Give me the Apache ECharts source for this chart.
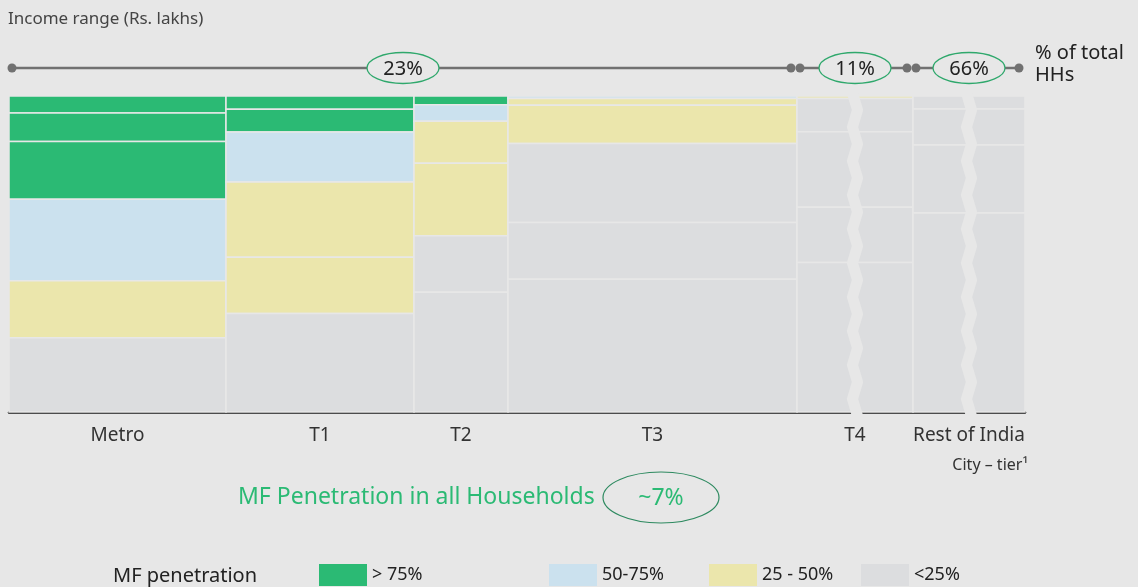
<!DOCTYPE html>
<html>
<head>
<meta charset="utf-8">
<script src="https://cdn.jsdelivr.net/npm/echarts@6/dist/echarts.min.js"></script>
<style>
  html, body { margin: 0; padding: 0; background: #e7e7e7; }
  #chart { width: 1138px; height: 587px; }
</style>
</head>
<body>
<div id="chart"></div>
<script>
// city tiers and the drawn width of each column
var cities = ['Metro', 'T1', 'T2', 'T3', 'T4', 'Rest of India'];
var columnWidths = [217, 188, 94, 289, 116, 112];

// MF penetration classes
var penetrationClasses = ['> 75%', '50-75%', '25 - 50%', '<25%'];

// income-range segments, top to bottom: share of column (%) and penetration class
var metroShares = [5.4, 9.0, 18.3, 25.8, 18.0, 23.5];
var metroClasses = [0, 0, 0, 1, 2, 3];
var t1Shares = [4.2, 7.2, 15.8, 23.8, 17.8, 31.2];
var t1Classes = [0, 0, 1, 2, 2, 3];
var t2Shares = [2.8, 5.2, 13.3, 22.9, 17.9, 37.9];
var t2Classes = [0, 1, 2, 2, 3, 3];
var t3Shares = [0.8, 2.1, 12.1, 25.0, 18.0, 42.0];
var t3Classes = [1, 2, 2, 3, 3, 3];
var t4Shares = [0.8, 10.5, 23.9, 17.5, 47.3];
var t4Classes = [2, 3, 3, 3, 3];
var roiShares = [4.1, 11.4, 21.5, 63.0];
var roiClasses = [3, 3, 3, 3];

// % of total households per group of columns
var hhShareLabels = ['23%', '11%', '66%'];
var hhShareGroups = [[0, 3], [4, 4], [5, 5]];
var brokenColumns = [4, 5];
var overallPenetration = '~7%';

var BG = '#e7e7e7';
var FONT = 'Noto Sans';
var classColors = ['#2bba74', '#cbe1ee', '#ebe6ac', '#dcdddf'];
var legendLefts = [319, 549, 709, 861];

var allShares = [metroShares, t1Shares, t2Shares, t3Shares, t4Shares, roiShares];
var allClasses = [metroClasses, t1Classes, t2Classes, t3Classes, t4Classes, roiClasses];

var xStart = [];
var acc = 0;
columnWidths.forEach(function (w) { xStart.push(acc); acc += w; });
var xTotal = acc;
var mids = columnWidths.map(function (w, i) { return xStart[i] + w / 2; });

var bandData = penetrationClasses.map(function () { return []; });
allShares.forEach(function (shares, col) {
    var cum = 0;
    shares.forEach(function (s, k) {
        var top = 100 - cum;
        cum += s;
        var bottom = Math.max(0, 100 - cum);
        bandData[allClasses[col][k]].push([xStart[col], xStart[col] + columnWidths[col], top, bottom]);
    });
});

function renderBand(params, api) {
    var p0 = api.coord([api.value(0), api.value(2)]);
    var p1 = api.coord([api.value(1), api.value(3)]);
    return {
        type: 'rect',
        shape: { x: p0[0], y: p0[1], width: p1[0] - p0[0], height: p1[1] - p0[1] },
        style: { fill: api.visual('color'), stroke: BG, lineWidth: 1.5 }
    };
}

// zigzag cut through a truncated column (and its axis line)
function renderBreak(params, api) {
    var top = api.coord([api.value(0), 100]);
    var bottom = api.coord([api.value(0), 0]);
    var endY = bottom[1] + 4;
    var step = 17;
    var pts = [];
    var k = 0;
    var y = top[1] - 3;
    while (y < endY) {
        pts.push([top[0] + (k % 2 === 0 ? -2.5 : 2.5), y]);
        y += step;
        k++;
    }
    var last = pts[pts.length - 1];
    var frac = (endY - last[1]) / step;
    var nextX = top[0] + (k % 2 === 0 ? -2.5 : 2.5);
    pts.push([last[0] + (nextX - last[0]) * frac, endY]);
    return {
        type: 'polyline',
        shape: { points: pts },
        style: { stroke: BG, lineWidth: 11, fill: null, lineJoin: 'miter', lineCap: 'butt' }
    };
}

function renderGroup(params, api) {
    var p0 = api.coord([api.value(0), 100]);
    var p1 = api.coord([api.value(1), 100]);
    var y = p0[1] - 28;
    var a = p0[0] + 3;
    var b = p1[0] - 6;
    var cx = (p0[0] + p1[0]) / 2;
    return {
        type: 'group',
        children: [
            { type: 'line', shape: { x1: a, y1: y, x2: b, y2: y }, style: { stroke: '#717171', lineWidth: 2.5 } },
            { type: 'circle', shape: { cx: a, cy: y, r: 4.5 }, style: { fill: '#717171' } },
            { type: 'circle', shape: { cx: b, cy: y, r: 4.5 }, style: { fill: '#717171' } },
            { type: 'ellipse', shape: { cx: cx, cy: y, rx: 36, ry: 15.5 }, style: { fill: BG, stroke: '#2fa86c', lineWidth: 1.3 } },
            { type: 'text', style: { x: cx, y: y + 1, text: hhShareLabels[params.dataIndex], align: 'center', verticalAlign: 'middle', fontSize: 20, fontFamily: FONT, fill: '#222' } }
        ]
    };
}

var chartDom = document.getElementById('chart');
var myChart = echarts.init(chartDom);

var series = penetrationClasses.map(function (name, c) {
    return {
        name: name,
        type: 'custom',
        renderItem: renderBand,
        encode: { x: [0, 1], y: [2, 3] },
        itemStyle: { color: classColors[c] },
        data: bandData[c],
        z: 2
    };
});
series.push({
    type: 'custom',
    renderItem: renderBreak,
    encode: { x: 0, y: 1 },
    data: brokenColumns.map(function (i) { return [mids[i], 0]; }),
    clip: false,
    silent: true,
    z: 10
});
series.push({
    type: 'custom',
    renderItem: renderGroup,
    encode: { x: [0, 1] },
    data: hhShareGroups.map(function (g) { return [xStart[g[0]], xStart[g[1]] + columnWidths[g[1]]]; }),
    clip: false,
    silent: true,
    z: 10
});

var option = {
    backgroundColor: BG,
    animation: false,
    title: {
        text: 'Income range (Rs. lakhs)',
        left: 3,
        top: 6,
        textStyle: { fontSize: 17, fontWeight: 'normal', color: '#444', fontFamily: FONT }
    },
    legend: penetrationClasses.map(function (name, i) {
        return {
            data: [name],
            left: legendLefts[i],
            top: 564,
            padding: 0,
            icon: 'rect',
            itemWidth: 48,
            itemHeight: 22,
            selectedMode: false,
            textStyle: { fontSize: 18, color: '#222', fontFamily: FONT }
        };
    }),
    grid: { left: 9, right: 113, top: 96, bottom: 175 },
    xAxis: {
        type: 'value',
        min: 0,
        max: xTotal,
        z: 1,
        splitLine: { show: false },
        axisTick: { show: false },
        axisLine: { show: true, onZero: false, lineStyle: { color: '#1a1a1a', width: 2.5 } },
        axisLabel: {
            customValues: mids,
            formatter: function (v) {
                for (var i = 0; i < mids.length; i++) {
                    if (Math.abs(mids[i] - v) < 0.01) return cities[i];
                }
                return '';
            },
            margin: 14,
            fontSize: 19,
            color: '#333',
            fontFamily: FONT
        }
    },
    yAxis: { type: 'value', min: 0, max: 100, show: false },
    graphic: [
        { type: 'text', left: 1035, top: 42, style: { text: '% of total\nHHs', fontSize: 20, lineHeight: 22, fill: '#222', fontFamily: FONT } },
        { type: 'text', right: 110, top: 457, style: { text: 'City \u2013 tier\u00b9', fontSize: 16, fill: '#333', fontFamily: FONT } },
        { type: 'text', x: 238, y: 497, style: { text: 'MF Penetration in all Households', verticalAlign: 'middle', fontSize: 23, fill: '#2bba74', fontFamily: FONT } },
        { type: 'ellipse', shape: { cx: 661, cy: 497.5, rx: 58, ry: 25.5 }, style: { fill: 'none', stroke: '#2e8a60', lineWidth: 1.2 } },
        { type: 'text', x: 661, y: 498, style: { text: overallPenetration, align: 'center', verticalAlign: 'middle', fontSize: 23, fill: '#2bba74', fontFamily: FONT } },
        { type: 'text', x: 113, y: 576, style: { text: 'MF penetration', verticalAlign: 'middle', fontSize: 20, fill: '#222', fontFamily: FONT } }
    ],
    series: series
};

myChart.setOption(option);

window.addEventListener('resize', function () {
    myChart.resize();
});
</script>
</body>
</html>
